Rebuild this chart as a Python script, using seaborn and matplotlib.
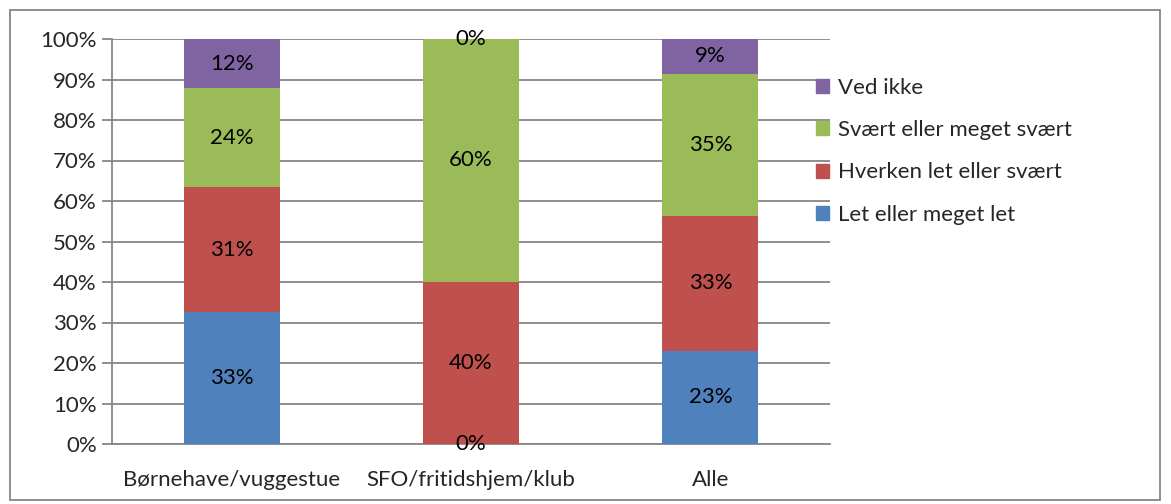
import matplotlib.pyplot as plt
import matplotlib.patches as mpatches
import seaborn as sns
import numpy as np
from matplotlib.ticker import PercentFormatter, FixedLocator

categories = ['Børnehave/vuggestue', 'SFO/fritidshjem/klub', 'Alle']
series = ['Let eller meget let', 'Hverken let eller svært',
          'Svært eller meget svært', 'Ved ikke']
let = [32.6, 0.0, 23.0]
hverken = [30.8, 40.0, 33.3]
svaert = [24.4, 60.0, 35.1]
ved_ikke = [12.2, 0.0, 8.6]
colors = ['#4F81BD', '#C0504D', '#9BBB59', '#8064A2']

sns.set_style('white')
plt.rcParams['font.family'] = ['Lato', 'DejaVu Sans']
fs = 16

fig = plt.figure(figsize=(11.71, 5.04), dpi=100)
ax = fig.add_axes([112 / 1171, 60 / 504, 718 / 1171, 405 / 504])

bottom = np.zeros(len(categories))
for name, vals, col in zip(series, [let, hverken, svaert, ved_ikke], colors):
    sns.barplot(x=categories, y=vals, color=col, saturation=1, width=0.4,
                bottom=bottom, ax=ax, label=name, zorder=3, linewidth=0)
    bottom = bottom + np.array(vals)

for cont in ax.containers:
    ax.bar_label(cont, labels=[f'{b.get_height():.0f}%' for b in cont],
                 label_type='center', fontsize=fs, color='black')

ax.set_ylim(0, 100)
ax.set_xlim(-0.5, 2.5)
ax.yaxis.set_major_locator(FixedLocator(np.arange(0, 101, 10)))
ax.yaxis.set_major_formatter(PercentFormatter(decimals=0))
ax.grid(axis='y', color='#868686', linewidth=1.3, zorder=0)
ax.set_axisbelow(True)
for s in ['top', 'right']:
    ax.spines[s].set_visible(False)
for s in ['left', 'bottom']:
    ax.spines[s].set_color('#868686')
    ax.spines[s].set_linewidth(1.3)
ax.xaxis.set_minor_locator(FixedLocator([-0.5, 0.5, 1.5, 2.5]))
ax.tick_params(axis='x', which='major', length=0, labelsize=fs, pad=19)
ax.tick_params(axis='x', which='minor', length=7, width=1.3, color='#868686', direction='out')
ax.tick_params(axis='y', length=7, width=1.3, color='#868686', direction='out',
               left=True, labelsize=fs, pad=4)
ax.set_xlabel('')
ax.set_ylabel('')

handles = [mpatches.Patch(color=c, label=n) for n, c in zip(series, colors)][::-1]
fig.legend(handles=handles, loc='upper left', bbox_to_anchor=(796 / 1171, 1 - 58 / 504),
           frameon=False, fontsize=fs, handlelength=0.6, handleheight=0.6,
           handletextpad=0.4, labelspacing=1.0)
if ax.get_legend():
    ax.get_legend().remove()

fig.patches.append(mpatches.Rectangle((10 / 1171, 4 / 504), 1150 / 1171, 490 / 504,
                                      transform=fig.transFigure, fill=False,
                                      edgecolor='#868686', linewidth=1.3))

fig.savefig('out.png', dpi=100)
